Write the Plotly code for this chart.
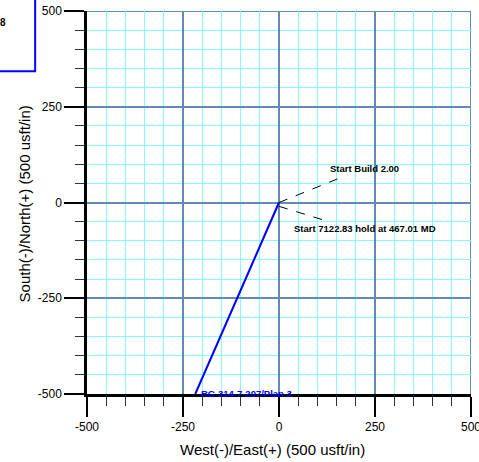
import plotly.graph_objects as go

# Well path (plan view) – West(-)/East(+) vs South(-)/North(+)
path_ew = [0, -218]
path_ns = [0, -500]
well_label = "RG 314-7-207/Plan 3"

# Annotation leader lines: [x0, x1], [y0, y1]
build_ew = [0, 168]
build_ns = [0, 68]
hold_ew = [0, 130]
hold_ns = [-10, -50]
build_text = "Start Build 2.00"
hold_text = "Start 7122.83 hold at 467.01 MD"

tick_vals = [-500, -250, 0, 250, 500]
tick_text = ["-500", "-250", "0", "250", "500"]
axis_min, axis_max = -500, 500

MAJOR = "#5f8bb5"
MINOR = "#80ffff"
FONT = "Liberation Sans, Arial"

fig = go.Figure()
fig.add_trace(go.Scatter(x=path_ew, y=path_ns, mode="lines",
                         line=dict(color="#0000ff", width=2), showlegend=False))
fig.add_trace(go.Scatter(x=build_ew, y=build_ns, mode="lines",
                         line=dict(color="black", width=1, dash="dash"), showlegend=False))
fig.add_trace(go.Scatter(x=hold_ew, y=hold_ns, mode="lines",
                         line=dict(color="black", width=1, dash="dash"), showlegend=False))

axis_common = dict(
    range=[axis_min, axis_max], automargin=False,
    tickvals=tick_vals, ticktext=tick_text, ticklabeloverflow="allow",
    ticks="outside", ticklen=20, tickwidth=1.5, tickcolor="black",
    showline=True, linecolor="black", linewidth=2.5,
    showgrid=True, gridcolor=MAJOR, gridwidth=2,
    zeroline=True, zerolinecolor=MAJOR, zerolinewidth=2,
    minor=dict(dtick=50, tick0=0, ticks="outside", ticklen=9, tickwidth=1.2,
               tickcolor="#333333", showgrid=True, gridcolor=MINOR, gridwidth=1),
    tickfont=dict(family=FONT, size=12, color="black"),
    fixedrange=True,
)

fig.update_xaxes(**axis_common)
fig.update_yaxes(**axis_common)

# edge grid lines (top at N=500, right at E=500)
fig.add_shape(type="line", x0=axis_min, x1=axis_max, y0=axis_max, y1=axis_max,
              line=dict(color=MAJOR, width=2), layer="below")
fig.add_shape(type="line", x0=axis_max, x1=axis_max, y0=axis_min, y1=axis_max,
              line=dict(color=MAJOR, width=2), layer="below")

# axis titles
fig.add_annotation(xref="paper", yref="paper", x=0.484, y=-0.144,
                   text="West(-)/East(+) (500 usft/in)", showarrow=False,
                   xanchor="center", yanchor="middle",
                   font=dict(family=FONT, size=15, color="black"))
fig.add_annotation(xref="paper", yref="paper", x=-0.163, y=0.496, textangle=-90,
                   text="South(-)/North(+) (500 usft/in)", showarrow=False,
                   xanchor="center", yanchor="middle",
                   font=dict(family=FONT, size=15, color="black"))

fig.add_annotation(x=-209, y=-500, text="<b>" + well_label + "</b>", showarrow=False,
                   xanchor="left", yanchor="bottom", yshift=-7,
                   font=dict(family=FONT, size=9.5, color="#0000ff"))
fig.add_annotation(x=build_ew[1] - 40, y=build_ns[1] + 2, text="<b>" + build_text + "</b>",
                   showarrow=False, xanchor="left", yanchor="bottom",
                   font=dict(family=FONT, size=9.5, color="black"))
fig.add_annotation(x=35, y=-48, text="<b>" + hold_text + "</b>",
                   showarrow=False, xanchor="left", yanchor="top",
                   font=dict(family=FONT, size=9.5, color="black"))

# partially visible info box at top-left
fig.add_shape(type="rect", xref="paper", yref="paper", x0=-0.35, x1=-0.135, y0=0.843, y1=1.2,
              line=dict(color="#0000ff", width=2), fillcolor="rgba(0,0,0,0)")
fig.add_annotation(xref="paper", yref="paper", x=-0.219, y=0.969, text="<b>8</b>",
                   showarrow=False, xanchor="center", yanchor="middle",
                   font=dict(family=FONT, size=10, color="black"))

fig.update_layout(width=479, height=462, margin=dict(l=87, r=8, t=11, b=68),
                  paper_bgcolor="white", plot_bgcolor="white", showlegend=False)

fig.write_html("out.html", config={"displayModeBar": False},
               post_script="document.body.style.margin='0px';")
